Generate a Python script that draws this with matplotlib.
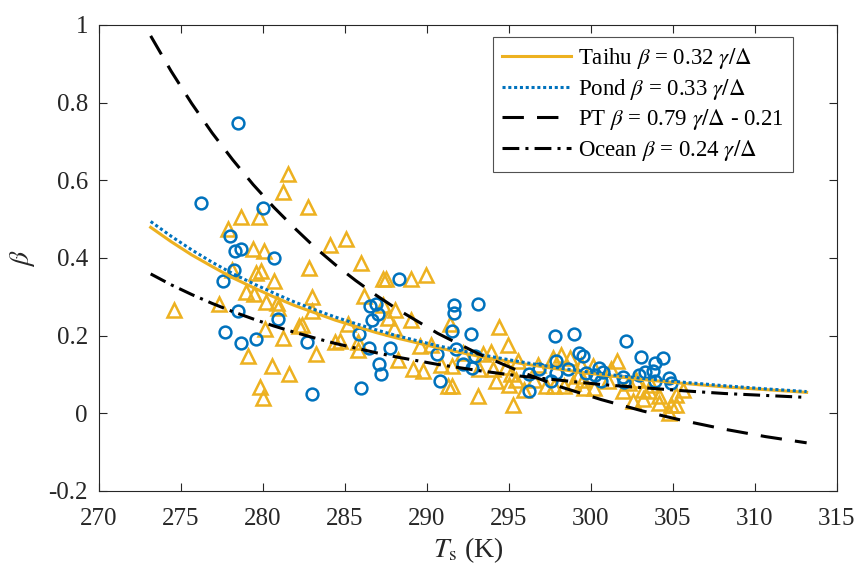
import matplotlib
matplotlib.use("Agg")
import matplotlib.pyplot as plt

plt.rcParams["font.family"] = "Liberation Serif"
plt.rcParams["mathtext.fontset"] = "stix"

# fitted curves (denser where they bend most)
t_curve = [273.15, 274.40, 275.65, 276.90, 278.15, 279.40, 280.65, 281.90, 283.15,
           284.40, 285.65, 286.90, 288.15, 290.65, 293.15, 295.65, 298.15, 300.65,
           303.15, 305.65, 308.15, 310.65, 313.15]
beta_taihu = [0.479, 0.442, 0.408, 0.378, 0.349, 0.324, 0.300, 0.278, 0.259,
              0.240, 0.224, 0.208, 0.194, 0.169, 0.147, 0.129, 0.113, 0.099,
              0.087, 0.077, 0.068, 0.061, 0.054]
beta_pond = [0.494, 0.456, 0.421, 0.389, 0.360, 0.334, 0.310, 0.287, 0.267,
             0.248, 0.231, 0.215, 0.200, 0.174, 0.152, 0.133, 0.116, 0.102,
             0.090, 0.080, 0.071, 0.063, 0.056]
beta_pt = [0.972, 0.881, 0.798, 0.722, 0.653, 0.589, 0.531, 0.478, 0.428,
           0.383, 0.342, 0.304, 0.269, 0.206, 0.153, 0.108, 0.068, 0.035,
           0.006, -0.019, -0.041, -0.060, -0.076]
beta_ocean = [0.359, 0.331, 0.306, 0.283, 0.262, 0.243, 0.225, 0.209, 0.194,
              0.180, 0.168, 0.156, 0.145, 0.126, 0.110, 0.096, 0.085, 0.074,
              0.066, 0.058, 0.051, 0.046, 0.041]

# Taihu observations (triangles)
taihu_t = [281.53, 281.19, 278.63, 279.74, 277.88, 279.40, 280.07, 278.08, 279.87, 279.60,
           280.66, 278.99, 279.44, 280.21, 280.86, 280.92, 274.57, 277.31, 280.15, 281.23,
           279.06, 280.56, 281.59, 279.80, 280.00, 282.18,
           282.75, 284.07, 285.04, 282.81, 286.00, 287.32, 287.52, 289.00, 289.91, 283.01,
           283.01, 286.16, 287.32, 288.03, 287.62, 289.00, 287.98, 285.18, 282.40, 284.37,
           284.72, 285.79, 285.79, 283.26, 288.23, 289.55, 290.26, 289.14, 289.75, 290.87,
           291.27, 291.38,
           294.38, 294.93, 292.19, 293.40, 293.92, 291.54, 293.20, 294.01, 294.83, 295.54,
           294.22, 295.13, 295.44, 294.99, 291.54, 293.10, 295.27, 295.94, 296.55, 296.75,
           297.26, 297.67, 297.77, 298.18, 298.38, 298.69, 298.89, 299.19, 299.60,
           301.57, 301.22, 300.10, 300.21, 299.40, 299.50, 302.34, 301.93, 302.54, 303.15,
           303.15, 303.56, 304.17, 304.17, 303.66, 304.78, 304.88, 305.18, 305.59, 301.02,
           302.74, 305.18]
taihu_b = [0.617, 0.570, 0.505, 0.505, 0.475, 0.422, 0.418, 0.370, 0.366, 0.362,
           0.340, 0.313, 0.308, 0.287, 0.284, 0.270, 0.267, 0.282, 0.218, 0.194,
           0.147, 0.121, 0.100, 0.068, 0.040, 0.224,
           0.531, 0.433, 0.448, 0.375, 0.386, 0.347, 0.347, 0.345, 0.355, 0.299,
           0.263, 0.303, 0.280, 0.265, 0.246, 0.241, 0.220, 0.230, 0.227, 0.184,
           0.187, 0.184, 0.164, 0.153, 0.138, 0.173, 0.177, 0.115, 0.110, 0.125,
           0.070, 0.229,
           0.222, 0.175, 0.155, 0.153, 0.158, 0.121, 0.113, 0.113, 0.119, 0.134,
           0.084, 0.100, 0.087, 0.074, 0.070, 0.044, 0.021, 0.061, 0.087, 0.125,
           0.070, 0.143, 0.070, 0.151, 0.070, 0.143, 0.078, 0.095, 0.065,
           0.136, 0.113, 0.121, 0.064, 0.125, 0.087, 0.078, 0.057, 0.033, 0.061,
           0.038, 0.057, 0.044, 0.027, 0.074, 0.001, 0.022, 0.048, 0.061, 0.084,
           0.087, 0.022]

# Pond observations (circles)
pond_t = [278.45, 276.19, 279.97, 277.98, 278.30, 278.63, 280.68, 278.22, 277.57, 278.45,
          280.92, 277.67, 278.63, 279.60,
          288.27, 286.50, 286.87, 287.01, 286.67, 285.85, 282.69, 286.44, 287.76, 290.60,
          287.05, 287.17, 290.77, 286.00, 283.01,
          291.62, 291.62, 293.10, 291.54, 292.69, 291.74, 292.90, 292.19, 292.76, 296.25,
          296.25, 296.86, 297.57, 297.83, 298.99, 297.87, 297.87, 298.58, 299.29, 299.50,
          299.70,
          302.14, 303.05, 304.37, 303.92, 303.80, 303.31, 302.95, 300.51, 300.71, 300.61,
          300.27, 301.93, 302.03, 303.92, 304.73, 304.87]
pond_b = [0.747, 0.542, 0.528, 0.456, 0.419, 0.422, 0.400, 0.368, 0.340, 0.263,
          0.244, 0.210, 0.181, 0.192,
          0.345, 0.276, 0.282, 0.256, 0.241, 0.205, 0.184, 0.167, 0.168, 0.153,
          0.127, 0.100, 0.084, 0.065, 0.050,
          0.280, 0.259, 0.282, 0.213, 0.203, 0.166, 0.147, 0.127, 0.117, 0.100,
          0.058, 0.113, 0.082, 0.198, 0.204, 0.134, 0.104, 0.113, 0.155, 0.147,
          0.104,
          0.187, 0.144, 0.143, 0.130, 0.110, 0.107, 0.098, 0.117, 0.107, 0.084,
          0.098, 0.093, 0.081, 0.082, 0.091, 0.078]

orange = "#EDB120"
blue = "#0072BD"
ink = "#262626"

fig = plt.figure(figsize=(8.58, 5.76), dpi=100)
ax = fig.add_axes([0.1154, 0.1476, 0.8601, 0.809])

ax.plot(taihu_t, taihu_b, linestyle="none", marker="^", markersize=10.5,
        markerfacecolor="none", markeredgecolor=orange, markeredgewidth=1.8)
ax.plot(pond_t, pond_b, linestyle="none", marker="o", markersize=8.5,
        markerfacecolor="none", markeredgecolor=blue, markeredgewidth=1.8)

ax.plot(t_curve, beta_taihu, color=orange, lw=2.2, label=r"Taihu $\beta$ = 0.32 $\gamma/\Delta$")
ax.plot(t_curve, beta_pond, color=blue, lw=2.2, linestyle=(0, (1, 0.9)),
        label=r"Pond $\beta$ = 0.33 $\gamma/\Delta$")
ax.plot(t_curve, beta_pt, color="black", lw=2.2, linestyle=(0, (7, 4.3)),
        label=r"PT $\beta$ = 0.79 $\gamma/\Delta$ - 0.21")
ax.plot(t_curve, beta_ocean, color="black", lw=2.2, linestyle=(0, (5.5, 2, 1, 2)),
        label=r"Ocean $\beta$ = 0.24 $\gamma/\Delta$")

ax.set_xlim(270, 315)
ax.set_ylim(-0.2, 1)
ax.set_xticks(range(270, 316, 5))
ax.set_yticks([-0.2, 0, 0.2, 0.4, 0.6, 0.8, 1])
ax.set_yticklabels(["-0.2", "0", "0.2", "0.4", "0.6", "0.8", "1"])
ax.tick_params(direction="in", top=True, right=True, labelsize=18, length=6,
               width=0.8, colors=ink, labelcolor=ink)
ax.tick_params(axis="x", pad=12)
ax.tick_params(axis="y", pad=8)
for s in ax.spines.values():
    s.set_color(ink)
    s.set_linewidth(0.8)

ax.set_xlabel(r"$T_{\mathrm{s}}$ (K)", fontsize=20, color=ink, labelpad=4)
ax.set_ylabel(r"$\beta$", fontsize=20, color=ink, labelpad=8)

leg = ax.legend(loc="upper right", bbox_to_anchor=(0.94, 0.975), fontsize=16.5,
                frameon=True, fancybox=False, edgecolor=ink, handlelength=3.0,
                handletextpad=0.3, borderpad=0.4, labelspacing=0.25, borderaxespad=0)
leg.get_frame().set_linewidth(0.8)

fig.savefig("out.png", dpi=100)
